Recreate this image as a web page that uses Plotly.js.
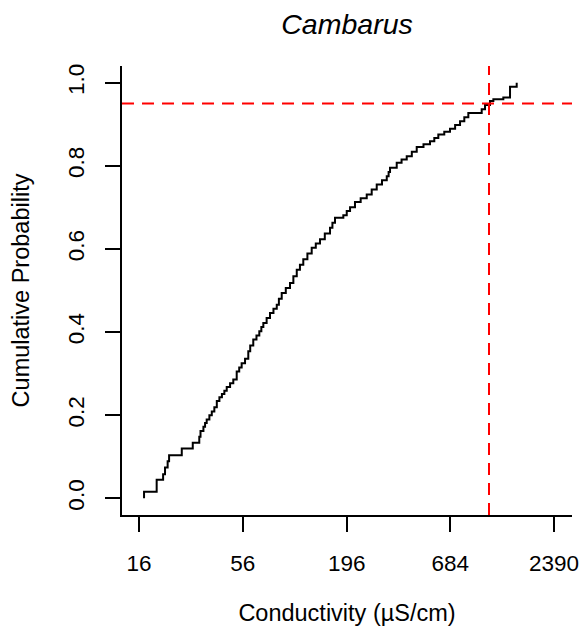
<!DOCTYPE html>
<html>
<head>
<meta charset="utf-8">
<script src="https://cdn.plot.ly/plotly-3.0.1.min.js"></script>
<style>
html,body{margin:0;padding:0;background:#fff;}
#chart{width:584px;height:632px;}
</style>
</head>
<body>
<div id="chart"></div>
<script>
// ECDF step positions (conductivity, µS/cm) and cumulative probability after each step
const conductivity = [17.0, 17.0, 19.8, 21.4, 21.9, 22.6, 23.0, 26.8, 30.6, 33.1, 33.6, 34.8, 35.5, 36.2, 37.4, 38.5, 39.7, 40.9, 42.2, 43.5, 44.8, 46.1, 48.0, 49.9, 52.0, 53.6, 55.2, 57.5, 59.8, 61.2, 63.5, 66.0, 68.3, 70.0, 71.7, 74.6, 77.7, 81.0, 84.3, 86.5, 89.5, 94.0, 98.9, 103.0, 107.3, 111.5, 116.1, 122.0, 128.5, 135.0, 142.0, 150.5, 160.3, 165.0, 170.2, 188.2, 196.1, 204.1, 216.6, 232.0, 249.6, 265.0, 281.6, 300.0, 317.8, 325.0, 330.6, 358.4, 380.0, 404.4, 430.0, 456.2, 495.0, 535.5, 564.0, 592.0, 636.0, 681.8, 725.0, 769.3, 810.0, 850.2, 999.0, 1040.0, 1104.0, 1150.0, 1297.0, 1406.0, 1524.0];
const cumProb = [0.000, 0.016, 0.045, 0.058, 0.074, 0.089, 0.104, 0.120, 0.134, 0.148, 0.162, 0.172, 0.181, 0.190, 0.200, 0.209, 0.219, 0.234, 0.243, 0.251, 0.259, 0.268, 0.277, 0.286, 0.305, 0.315, 0.325, 0.336, 0.354, 0.368, 0.382, 0.392, 0.402, 0.412, 0.422, 0.434, 0.446, 0.456, 0.466, 0.480, 0.494, 0.506, 0.518, 0.534, 0.550, 0.562, 0.575, 0.589, 0.603, 0.613, 0.623, 0.637, 0.651, 0.663, 0.675, 0.681, 0.691, 0.700, 0.713, 0.722, 0.731, 0.743, 0.755, 0.765, 0.775, 0.785, 0.795, 0.807, 0.815, 0.823, 0.834, 0.845, 0.852, 0.859, 0.867, 0.875, 0.882, 0.889, 0.898, 0.907, 0.917, 0.927, 0.936, 0.946, 0.956, 0.960, 0.964, 0.990, 1.000];

const xTickVals = [16, 56, 196, 684, 2390];
const xTickText = ["16", "56", "196", "684", "2390"];
const yTickVals = [0, 0.2, 0.4, 0.6, 0.8, 1.0];
const yTickText = ["0.0", "0.2", "0.4", "0.6", "0.8", "1.0"];

const probLevel = 0.95;      // horizontal reference
const conductivityAt95 = 1091; // vertical reference

const FONT = "Liberation Sans, Arial, Helvetica, sans-serif";

const trace = {
  x: conductivity,
  y: cumProb,
  type: "scatter",
  mode: "lines",
  line: {shape: "hv", color: "#000", width: 2},
  hoverinfo: "skip",
  showlegend: false
};

const layout = {
  width: 584,
  height: 632,
  margin: {l: 122, r: 12, t: 66, b: 117, pad: 0},
  paper_bgcolor: "#fff",
  plot_bgcolor: "#fff",
  font: {family: FONT, color: "#000", size: 23},
  showlegend: false,
  title: {
    text: "Cambarus",
    font: {family: FONT, size: 28.5, style: "italic", color: "#000"},
    x: 0.5, xref: "paper", xanchor: "center",
    y: 1 - 24/632, yref: "container", yanchor: "middle"
  },
  xaxis: {
    type: "log",
    range: [1.115, 3.4727],
    tickmode: "array",
    tickvals: xTickVals,
    ticktext: xTickText,
    ticks: "outside",
    ticklen: 15,
    tickwidth: 2,
    tickcolor: "#000",
    showline: true,
    linewidth: 2,
    linecolor: "#000",
    mirror: false,
    showgrid: false,
    zeroline: false,
    tickfont: {family: FONT, size: 22.5, color: "#000"},
    ticklabelstandoff: 12,
    title: {text: "Conductivity (µS/cm)", font: {family: FONT, size: 23.5, color: "#000"}, standoff: 30},
    fixedrange: true
  },
  yaxis: {
    range: [-0.04, 1.04],
    tickmode: "array",
    tickvals: yTickVals,
    ticktext: yTickText,
    tickangle: -90,
    ticks: "outside",
    ticklen: 15,
    tickwidth: 2,
    tickcolor: "#000",
    showline: true,
    linewidth: 2,
    linecolor: "#000",
    mirror: false,
    showgrid: false,
    zeroline: false,
    tickfont: {family: FONT, size: 22.5, color: "#000"},
    ticklabelstandoff: 12,
    title: {text: "Cumulative Probability", font: {family: FONT, size: 23.5, color: "#000"}, standoff: 28},
    fixedrange: true
  },
  shapes: [
    {type: "line", xref: "paper", x0: 0, x1: 1, yref: "y", y0: probLevel, y1: probLevel,
     line: {color: "#ff0000", width: 2, dash: "12px,8px"}},
    {type: "line", xref: "x", x0: conductivityAt95, x1: conductivityAt95, yref: "paper", y0: 0, y1: 1,
     line: {color: "#ff0000", width: 2, dash: "12px,8px"}}
  ]
};

Plotly.newPlot("chart", [trace], layout, {displayModeBar: false, staticPlot: true});
</script>
</body>
</html>
